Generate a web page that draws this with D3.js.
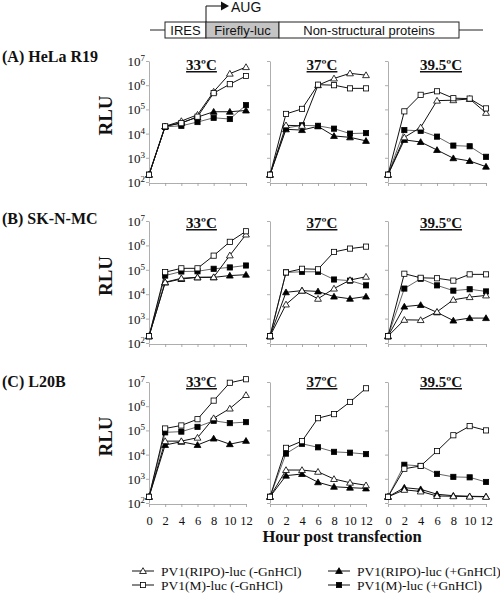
<!DOCTYPE html>
<html><head><meta charset="utf-8">
<script src="https://cdn.jsdelivr.net/npm/d3@7"></script>
<style>body{margin:0;background:#fff}svg{display:block}
.sf{font-family:"Liberation Serif",Tinos,"Times New Roman",Times,"Nimbus Roman","Nimbus Roman No9 L",FreeSerif,serif}
.ss{font-family:"Liberation Sans",Arimo,Arial,Helvetica,sans-serif}
</style>
</head><body>
<svg id="c" width="500" height="602"></svg>
<script>
const hours = [0, 2, 4, 6, 8, 10, 12];
const temps = ["33ºC", "37ºC", "39.5ºC"];
const rowLabels = ["(A) HeLa R19", "(B) SK-N-MC", "(C) L20B"];
const yTicks = [1e2, 1e3, 1e4, 1e5, 1e6, 1e7];
const legendLabels = ["PV1(RIPO)-luc (-GnHCl)", "PV1(RIPO)-luc (+GnHCl)", "PV1(M)-luc (-GnHCl)", "PV1(M)-luc (+GnHCl)"];
const geneBoxes = ["IRES", "Firefly-luc", "Non-structural proteins"];

// Row A: HeLa R19
const A33_ripoNeg = [200, 2e4, 3.3e4, 6e4, 5.4e5, 3e6, 5.6e6];
const A33_mNeg    = [200, 2e4, 2.7e4, 5e4, 4.7e5, 1.1e6, 2.4e6];
const A33_ripoPos = [200, 2e4, 2.8e4, 4.8e4, 8e4, 8e4, 9e4];
const A33_mPos    = [200, 1.9e4, 2.1e4, 3e4, 4.5e4, 4e4, 1.5e5];
const A37_ripoNeg = [200, 2.2e4, 2.1e4, 1e6, 1.9e6, 3.1e6, 2.6e6];
const A37_mNeg    = [200, 6.5e4, 1.05e5, 1.05e6, 1e6, 7.4e5, 7.4e5];
const A37_ripoPos = [200, 1.5e4, 1.4e4, 2e4, 8e3, 7e3, 5e3];
const A37_mPos    = [200, 1.7e4, 2.2e4, 2.1e4, 1.6e4, 1e4, 1.05e4];
const A39_ripoNeg = [200, 7e3, 1.8e4, 2.3e5, 2.4e5, 2.7e5, 7.2e4];
const A39_mNeg    = [200, 8.3e4, 4e5, 5.6e5, 2.9e5, 2.8e5, 1.1e5];
const A39_ripoPos = [200, 5.5e3, 4.5e3, 2.1e3, 960, 740, 430];
const A39_mPos    = [200, 1.4e4, 1.3e4, 7.5e3, 3.2e3, 3e3, 1.1e3];
// Row B: SK-N-MC
const B33_ripoNeg = [190, 3.1e4, 4.5e4, 4.9e4, 5e4, 3.9e5, 2.8e6];
const B33_mNeg    = [190, 8e4, 1.15e5, 1.15e5, 3.8e5, 1.4e6, 3.8e6];
const B33_ripoPos = [190, 3e4, 4.2e4, 4.9e4, 4.9e4, 5.8e4, 6.3e4];
const B33_mPos    = [190, 5.8e4, 8.5e4, 8.7e4, 1.1e5, 1.25e5, 1.5e5];
const B37_ripoNeg = [190, 3.8e3, 1.4e4, 6.5e3, 1.7e4, 3.8e4, 5.2e4];
const B37_mNeg    = [190, 7.8e4, 1.1e5, 1.05e5, 5.4e5, 7.4e5, 8.9e5];
const B37_ripoPos = [190, 1.2e4, 1.4e4, 1.3e4, 8e3, 6.5e3, 8e3];
const B37_mPos    = [190, 7.8e4, 8.3e4, 8.3e4, 4e4, 3.6e4, 2.3e4];
const B39_ripoNeg = [190, 890, 870, 1.9e3, 5.9e3, 7.6e3, 8.9e3];
const B39_mNeg    = [190, 6.9e4, 4.7e4, 4.5e4, 3.6e4, 6.5e4, 6.5e4];
const B39_ripoPos = [190, 3.1e3, 3.6e3, 1.8e3, 830, 1.05e3, 1.05e3];
const B39_mPos    = [190, 1.7e4, 4.3e4, 2.3e4, 1.4e4, 1.6e4, 1.3e4];
// Row C: L20B
const C33_ripoNeg = [180, 3.6e4, 3.6e4, 5e4, 3.2e5, 8e5, 2.9e6];
const C33_mNeg    = [180, 1.2e5, 1.6e5, 2.9e5, 1.7e6, 9.3e6, 1.3e7];
const C33_ripoPos = [180, 2.5e4, 3.4e4, 2.5e4, 4.6e4, 2.7e4, 3.7e4];
const C33_mPos    = [180, 8.3e4, 8.9e4, 1.4e5, 2.5e5, 2e5, 2.2e5];
const C37_ripoNeg = [180, 2.3e3, 2.3e3, 1.95e3, 980, 690, 540];
const C37_mNeg    = [180, 1.9e4, 3.6e4, 3.2e5, 4.7e5, 1.5e6, 5.5e6];
const C37_ripoPos = [180, 1.35e3, 1.58e3, 720, 470, 430, 400];
const C37_mPos    = [180, 1.1e4, 2.8e4, 2e4, 1.3e4, 1.2e4, 1.05e4];
const C39_ripoNeg = [180, 350, 300, 195, 190, 185, 180];
const C39_mNeg    = [180, 2.6e3, 3.4e3, 1.4e4, 6.3e4, 1.5e5, 1e5];
const C39_ripoPos = [180, 430, 370, 230, 200, 190, 185];
const C39_mPos    = [180, 3.8e3, 3.4e3, 1.6e3, 1.2e3, 1.15e3, 740];

const panels = [
  [[A33_ripoNeg, A33_mNeg, A33_ripoPos, A33_mPos], [A37_ripoNeg, A37_mNeg, A37_ripoPos, A37_mPos], [A39_ripoNeg, A39_mNeg, A39_ripoPos, A39_mPos]],
  [[B33_ripoNeg, B33_mNeg, B33_ripoPos, B33_mPos], [B37_ripoNeg, B37_mNeg, B37_ripoPos, B37_mPos], [B39_ripoNeg, B39_mNeg, B39_ripoPos, B39_mPos]],
  [[C33_ripoNeg, C33_mNeg, C33_ripoPos, C33_mPos], [C37_ripoNeg, C37_mNeg, C37_ripoPos, C37_mPos], [C39_ripoNeg, C39_mNeg, C39_ripoPos, C39_mPos]]
];

const svg = d3.select("#c");

// ---- gene diagram ----
const g0 = svg.append("g");
g0.append("line").attr("x1",150).attr("x2",483).attr("y1",30).attr("y2",30).attr("stroke","#222").attr("stroke-width",1);
const boxX = [165, 206, 279, 459];
const boxFill = ["#fff", "#c4c4c4", "#fff"];
geneBoxes.forEach((t,i)=>{
  g0.append("rect").attr("x",boxX[i]).attr("y",22).attr("width",boxX[i+1]-boxX[i]).attr("height",16)
    .attr("fill",boxFill[i]).attr("stroke","#222").attr("stroke-width",1);
  g0.append("text").attr("class","ss").attr("x",(boxX[i]+boxX[i+1])/2).attr("y",35).attr("text-anchor","middle")
    .attr("font-size",13).attr("fill","#111").text(t);
});
g0.append("path").attr("d","M206,22V6H222").attr("fill","none").attr("stroke","#111").attr("stroke-width",1);
g0.append("path").attr("d","M221,1.5L229,6L221,10.5Z").attr("fill","#111");
g0.append("text").attr("class","ss").attr("x",231).attr("y",11.5).attr("font-size",14).attr("fill","#111").text("AUG");

// ---- panels ----
const colX = [[149,246],[270,366],[388,486]];
const rowY = [[182,61],[343,221],[503,382]];
const markers = [
  {shape:"tri", fill:"#fff", line:"#111", lw:1},
  {shape:"sq", fill:"#fff", line:"#111", lw:1},
  {shape:"tri", fill:"#000", line:"#111", lw:1},
  {shape:"sq", fill:"#000", line:"#555", lw:0.9}
];
function drawMarker(g, m, x, y){
  if (m.shape === "sq"){
    g.append("rect").attr("x",x-2.6).attr("y",y-2.6).attr("width",5.2).attr("height",5.2)
      .attr("fill",m.fill).attr("stroke","#000").attr("stroke-width",0.8);
  } else {
    g.append("path").attr("d",`M${x},${y-3.3}L${x+3.4},${y+2.5}L${x-3.4},${y+2.5}Z`)
      .attr("fill",m.fill).attr("stroke","#000").attr("stroke-width",0.8);
  }
}
const drawOrder = [3,2,0,1];

rowY.forEach((ry, r)=>{
  svg.append("text").attr("class","sf").attr("x",2).attr("y",[62,224,387][r]).attr("font-weight","bold")
    .attr("font-size",16).attr("fill","#111").text(rowLabels[r]);
  const rcy = (ry[0]+ry[1])/2 - 6;
  svg.append("text").attr("class","sf").attr("transform",`translate(112,${rcy}) rotate(-90)`).attr("text-anchor","middle")
    .attr("font-weight","bold").attr("font-size",19).attr("fill","#111").text("RLU");
  colX.forEach((cx, c)=>{
    const x = d3.scaleLinear().domain([0,12]).range(cx);
    const y = d3.scaleLog().domain([1e2,1e7]).range(ry);
    const g = svg.append("g");
    const xa = g.append("g").attr("transform",`translate(0,${ry[0]+1})`)
      .call(d3.axisBottom(x).tickValues(hours).tickSize(3).tickSizeOuter(0).tickFormat(r===2 ? d3.format("d") : ""));
    const ya = g.append("g").attr("transform",`translate(${cx[0]},0)`)
      .call(d3.axisLeft(y).tickValues(yTicks).tickSize(3).tickSizeOuter(0).tickFormat(""));
    [xa, ya].forEach(a=>{
      a.attr("font-family",null).attr("font-size",null);
      a.select(".domain").attr("stroke","#999").attr("stroke-width",0.8);
      a.selectAll(".tick line").attr("stroke","#999").attr("stroke-width",0.8);
    });
    xa.selectAll(".tick text").attr("class","sf").attr("font-size",12.5).attr("fill","#111")
      .attr("y",0).attr("dy",null).attr("transform",`translate(0,${524.5-(ry[0]+1)})`);
    if (c === 0){
      yTicks.forEach(v=>{
        const t = g.append("text").attr("class","sf").attr("x",cx[0]-4).attr("y",y(v)+5).attr("text-anchor","end")
          .attr("font-size",13).attr("fill","#111");
        t.append("tspan").text("10");
        t.append("tspan").attr("font-size",9).attr("dy",-5).text(String(Math.round(Math.log10(v))));
      });
    }
    g.append("text").attr("class","sf").attr("x",(cx[0]+cx[1])/2+4).attr("y",[70,228,387][r]).attr("text-anchor","middle")
      .attr("font-weight","bold").attr("font-size",15).attr("fill","#111")
      .attr("text-decoration","underline").text(temps[c]);
    const line = d3.line().x((d,i)=>x(hours[i])).y(d=>y(d));
    drawOrder.forEach(s=>{
      g.append("path").datum(panels[r][c][s]).attr("d",line).attr("fill","none")
        .attr("stroke",markers[s].line).attr("stroke-width",markers[s].lw);
    });
    drawOrder.forEach(s=>{
      panels[r][c][s].forEach((v,i)=>drawMarker(g, markers[s], x(hours[i]), y(v)));
    });
  });
});

svg.append("text").attr("class","sf").attr("x",342).attr("y",542).attr("text-anchor","middle")
  .attr("font-weight","bold").attr("font-size",16.5).attr("fill","#111").text("Hour post transfection");

// ---- legend ----
const legPos = [[132,571],[328,571],[132,585],[328,585]];
const legSeries = [0,2,1,3];
legPos.forEach((p,k)=>{
  const s = legSeries[k];
  svg.append("line").attr("x1",p[0]).attr("x2",p[0]+22).attr("y1",p[1]).attr("y2",p[1])
    .attr("stroke","#111").attr("stroke-width",1);
  drawMarker(svg, markers[s], p[0]+11, p[1]);
  svg.append("text").attr("class","sf").attr("x",p[0]+29).attr("y",p[1]+4.5).attr("font-size",13.5)
    .attr("fill","#111").text(legendLabels[k]);
});
</script>
</body></html>
